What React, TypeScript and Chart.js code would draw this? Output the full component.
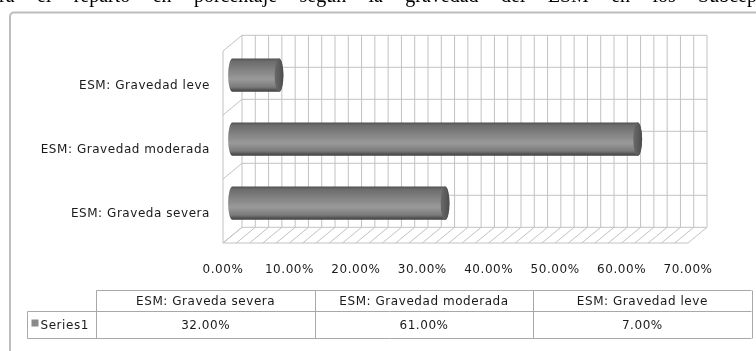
import React, { useEffect, useRef } from 'react';
import { Chart, registerables } from 'chart.js';

Chart.register(...registerables);

// ---- data ----
const categories = ['ESM: Graveda severa', 'ESM: Gravedad moderada', 'ESM: Gravedad leve'];
const seriesName = 'Series1';
const values = [0.32, 0.61, 0.07];
const xTickLabels = ['0.00%', '10.00%', '20.00%', '30.00%', '40.00%', '50.00%', '60.00%', '70.00%'];
const axisMin = 0;
const axisMax = 0.7;
const axisStep = 0.1;
const minorStep = 0.02;
const headerText = 'ra el reparto en porcentaje según la gravedad del ESM en los Subcep';

// ---- style ----
const FONT_FAMILY = '"DejaVu Sans", sans-serif';
const FONT_SIZE = 12;
const LETTER_SPACING = '0.55px';
const TEXT_COLOR = '#1a1a1a';
const GRID_COLOR = '#c2c2c2';
const DX = 19;
const DY = -15.7;

const fmtPct = (v: number) => (v * 100).toFixed(2) + '%';

const frame3d = {
  id: 'frame3d',
  beforeDraw(chart: any) {
    const ctx = chart.ctx as CanvasRenderingContext2D;
    ctx.save();
    ctx.fillStyle = '#ffffff';
    ctx.fillRect(0, 0, chart.width, chart.height);
    // clipped document text above the chart
    ctx.font = '20px "Liberation Serif", serif';
    ctx.fillStyle = '#000';
    ctx.textBaseline = 'alphabetic';
    ctx.textAlign = 'left';
    const words = headerText.split(' ');
    const widths = words.map((w) => ctx.measureText(w).width);
    const total = widths.reduce((a, b) => a + b, 0);
    const gap = (chart.width + 2 - total) / (words.length - 1);
    let tx = -1;
    words.forEach((w, i) => {
      ctx.fillText(w, tx, 2);
      tx += widths[i] + gap;
    });
    // chart outer border
    ctx.strokeStyle = '#bdbdbd';
    ctx.lineWidth = 2;
    ctx.beginPath();
    (ctx as any).roundRect(10, 12.5, 900, 500, 4);
    ctx.stroke();
    ctx.restore();
    (ctx as any).letterSpacing = LETTER_SPACING;
  },
  beforeDatasetsDraw(chart: any) {
    const ctx = chart.ctx as CanvasRenderingContext2D;
    const a = chart.chartArea;
    const xs = chart.scales.x;
    const ys = chart.scales.y;
    const bt = a.top + DY;
    const bb = a.bottom + DY;
    ctx.save();
    ctx.strokeStyle = GRID_COLOR;
    ctx.lineWidth = 1;
    ctx.beginPath();
    const n = Math.round((axisMax - axisMin) / minorStep);
    for (let i = 0; i <= n; i++) {
      const v = axisMin + i * minorStep;
      const fx = xs.getPixelForValue(v);
      // back wall vertical
      ctx.moveTo(fx + DX, bt);
      ctx.lineTo(fx + DX, bb);
      // floor hatch
      ctx.moveTo(fx, a.bottom);
      ctx.lineTo(fx + DX, bb);
    }
    // back wall horizontals (category boundaries and centres)
    for (let k = -0.5; k <= categories.length - 0.5 + 1e-9; k += 0.5) {
      const py = ys.getPixelForValue(k) + DY;
      ctx.moveTo(a.left + DX, py);
      ctx.lineTo(a.right + DX, py);
    }
    // left wall diagonals at category boundaries
    for (let k = -0.5; k <= categories.length - 0.5 + 1e-9; k += 1) {
      const py = ys.getPixelForValue(k);
      ctx.moveTo(a.left, py);
      ctx.lineTo(a.left + DX, py + DY);
    }
    // left wall front edge
    ctx.moveTo(a.left, a.top);
    ctx.lineTo(a.left, a.bottom);
    // floor front edge
    ctx.moveTo(a.left, a.bottom);
    ctx.lineTo(a.right, a.bottom);
    ctx.stroke();
    ctx.restore();
  },
  afterDatasetsDraw(chart: any) {
    const ctx = chart.ctx as CanvasRenderingContext2D;
    const meta = chart.getDatasetMeta(0);
    ctx.save();
    meta.data.forEach((el: any) => {
      const p = el.getProps(['x', 'y', 'base', 'height'], true);
      const x0 = p.base + DX / 2;
      const x1 = p.x + DX / 2;
      const yc = p.y + DY / 2;
      const ry = p.height / 2;
      const rx = 4.4;
      const g = ctx.createLinearGradient(0, yc - ry, 0, yc + ry);
      g.addColorStop(0, '#4e4e4e');
      g.addColorStop(0.07, '#6a6a6a');
      g.addColorStop(0.4, '#878787');
      g.addColorStop(0.62, '#9a9a9a');
      g.addColorStop(0.85, '#7c7c7c');
      g.addColorStop(0.95, '#525252');
      g.addColorStop(1, '#3f3f3f');
      ctx.fillStyle = g;
      ctx.beginPath();
      ctx.moveTo(x1, yc - ry);
      ctx.lineTo(x0, yc - ry);
      ctx.ellipse(x0, yc, rx, ry, 0, -Math.PI / 2, Math.PI / 2, true);
      ctx.lineTo(x1, yc + ry);
      ctx.ellipse(x1, yc, rx, ry, 0, Math.PI / 2, -Math.PI / 2, true);
      ctx.closePath();
      ctx.fill();
      // end cap
      const cg = ctx.createLinearGradient(x1 - rx, 0, x1 + rx, 0);
      cg.addColorStop(0, '#6a6a6a');
      cg.addColorStop(0.6, '#5a5a5a');
      cg.addColorStop(1, '#4a4a4a');
      ctx.fillStyle = cg;
      ctx.beginPath();
      ctx.ellipse(x1, yc, rx, ry, 0, 0, Math.PI * 2);
      ctx.fill();
    });
    ctx.restore();
  },
  afterDraw(chart: any) {
    const ctx = chart.ctx as CanvasRenderingContext2D;
    // data table
    const tLeft = 27.5;
    const hLeft = 96.5;
    const tRight = 751.5;
    const yTop = 290.5;
    const yMid = 311.5;
    const yBot = 338.5;
    const colW = (tRight - hLeft) / categories.length;
    ctx.save();
    ctx.strokeStyle = '#a8a8a8';
    ctx.lineWidth = 1;
    ctx.beginPath();
    ctx.moveTo(hLeft, yTop); ctx.lineTo(tRight, yTop);
    ctx.moveTo(tLeft, yMid); ctx.lineTo(tRight, yMid);
    ctx.moveTo(tLeft, yBot); ctx.lineTo(tRight, yBot);
    ctx.moveTo(tLeft, yMid); ctx.lineTo(tLeft, yBot);
    ctx.moveTo(hLeft, yTop); ctx.lineTo(hLeft, yBot);
    for (let i = 1; i <= categories.length; i++) {
      const cx = Math.round(hLeft + colW * i) + 0.5;
      ctx.moveTo(cx, yTop); ctx.lineTo(cx, yBot);
    }
    ctx.stroke();
    ctx.font = `${FONT_SIZE}px ${FONT_FAMILY}`;
    (ctx as any).letterSpacing = LETTER_SPACING;
    ctx.fillStyle = TEXT_COLOR;
    ctx.textBaseline = 'middle';
    ctx.textAlign = 'center';
    categories.forEach((c, i) => {
      const cx = hLeft + colW * (i + 0.5);
      ctx.fillText(c, cx, (yTop + yMid) / 2 + 0.5);
      ctx.fillText(fmtPct(values[i]), cx, (yMid + yBot) / 2 + 0.5);
    });
    // legend key + series name
    ctx.fillStyle = '#8a8a8a';
    ctx.fillRect(31.5, 319.5, 7, 7);
    ctx.fillStyle = TEXT_COLOR;
    ctx.textAlign = 'left';
    ctx.fillText(seriesName, 40.5, (yMid + yBot) / 2 + 0.5);
    ctx.restore();
  },
};

export default function App() {
  const ref = useRef<HTMLCanvasElement | null>(null);
  useEffect(() => {
    if (!ref.current) return;
    const chart = new Chart(ref.current, {
      type: 'bar',
      data: {
        labels: categories,
        datasets: [
          {
            label: seriesName,
            data: values,
            backgroundColor: 'rgba(0,0,0,0)',
            borderWidth: 0,
            barPercentage: 0.52,
            categoryPercentage: 1,
          },
        ],
      },
      options: {
        indexAxis: 'y',
        animation: false,
        responsive: false,
        maintainAspectRatio: false,
        devicePixelRatio: 1,
        layout: { padding: { left: 0, right: 68, top: 51, bottom: 0 } },
        plugins: {
          legend: { display: false },
          tooltip: { enabled: false },
          title: { display: false },
        },
        scales: {
          x: {
            type: 'linear',
            min: axisMin,
            max: axisMax,
            grid: { display: false, drawTicks: false },
            border: { display: false },
            ticks: {
              stepSize: axisStep,
              autoSkip: false,
              maxRotation: 0,
              padding: 20,
              color: TEXT_COLOR,
              font: { family: FONT_FAMILY, size: FONT_SIZE },
              callback: (_v: any, i: number) => xTickLabels[i],
            },
            afterFit: (s: any) => { s.height = 108; },
          },
          y: {
            type: 'category',
            reverse: true,
            grid: { display: false, drawTicks: false },
            border: { display: false },
            ticks: {
              padding: 13,
              labelOffset: 3,
              color: TEXT_COLOR,
              font: { family: FONT_FAMILY, size: FONT_SIZE },
            },
            afterFit: (s: any) => { s.width = 223; },
          },
        },
      },
      plugins: [frame3d],
    });
    return () => chart.destroy();
  }, []);
  return (
    <div style={{ position: 'fixed', left: 0, top: 0, width: 756, height: 351, overflow: 'hidden', background: '#fff' }}>
      <canvas ref={ref} width={756} height={351} style={{ display: 'block', width: 756, height: 351 }} />
    </div>
  );
}
